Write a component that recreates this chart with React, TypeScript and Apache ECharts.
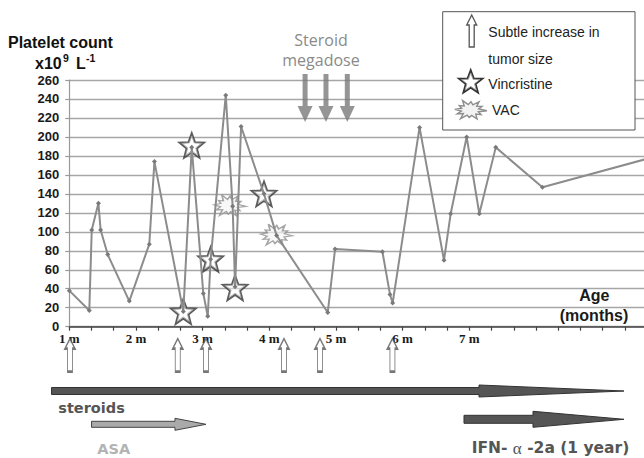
import React, { useEffect, useRef } from 'react';
import * as echarts from 'echarts';

// ---- data (age in days, platelet count x10^9/L) ----
const ageDays = [30, 39, 40.1, 43.1, 44.1, 47.3, 57, 66, 68.3, 81.3, 85.1, 90.3, 92.3, 93.6, 100.4, 103.5, 104.6, 107.3, 117.6, 123.3, 146.3, 149.6, 170.9, 174.3, 175.5, 187.6, 198.6, 201.6, 208.8, 214.5, 221.9, 242.9, 290];
const platelets = [38, 17, 102, 130, 102, 76, 27, 87, 174, 16, 189, 35, 11, 71, 244, 127, 42, 211, 140, 96, 15, 82, 79, 34, 25, 210, 70, 119, 200, 119, 189, 147, 177];

const vincristineDays = [81.3, 85.1, 93.6, 104.6, 117.6];
const vincristineValues = [16, 191, 71, 41, 140];

const vacDays = [102.3, 123.3];
const vacValues = [128, 97];

const tumorIncreaseDays = [30.3, 78.8, 91.5, 126.6, 142.8, 175.4];
const megadoseDays = [136.1, 145.5, 155.1];

const monthLabels = ['1 m', '2 m', '3 m', '4 m', '5 m', '6 m', '7 m'];
const monthDays = [30, 60, 90, 120, 150, 180, 210];

const therapyNames = ['steroids', 'ASA', 'IFN'];
const therapyStart = [22, 40, 207.6];
const therapyEnd = [279.6, 91.5, 279.6];

// ---- shapes ----
function starPoints(cx: number, cy: number, r: number, ri: number): number[][] {
  const pts: number[][] = [];
  for (let i = 0; i < 10; i++) {
    const a = (-90 + i * 36) * Math.PI / 180;
    const rr = i % 2 === 0 ? r : ri;
    pts.push([cx + rr * Math.cos(a), cy + rr * Math.sin(a)]);
  }
  return pts;
}
const burstOuter = [1.0, 0.78, 0.95, 0.72, 1.0, 0.84, 0.9, 0.76, 1.0, 0.8, 0.95, 0.78];
function burstPoints(cx: number, cy: number, w: number, h: number): number[][] {
  const pts: number[][] = [];
  for (let i = 0; i < 24; i++) {
    const a = (i * 15 + 4) * Math.PI / 180;
    const rr = i % 2 === 0 ? burstOuter[i / 2] : 0.52;
    pts.push([cx + rr * (w / 2) * Math.cos(a), cy + rr * (h / 2) * Math.sin(a)]);
  }
  return pts;
}
function upArrowPoints(cx: number, top: number, w: number, h: number): number[][] {
  const hh = w; // head height
  return [
    [cx, top], [cx + w / 2, top + hh], [cx + w / 4, top + hh], [cx + w / 4, top + h],
    [cx - w / 4, top + h], [cx - w / 4, top + hh], [cx - w / 2, top + hh],
  ];
}
const toPath = (pts: number[][]) => 'path://M' + pts.map(p => p[0].toFixed(2) + ' ' + p[1].toFixed(2)).join(' L') + ' Z';

const STAR = toPath(starPoints(50, 50, 50, 21));
const BURST = toPath(burstPoints(50, 50, 100, 100));
const UP_ARROW = toPath(upArrowPoints(5, 0, 10, 33));
const DOWN_ARROW = 'path://M5 0 L10 0 L10 32 L15 32 L7.5 48 L0 32 L5 32 Z';

export default function App() {
  const ref = useRef<HTMLDivElement>(null);
  useEffect(() => {
    const el = ref.current as HTMLDivElement;
    const chart = echarts.init(el, null, { renderer: 'svg' });
    const lineData = ageDays.map((d, i) => [d, platelets[i]]);
    const option: any = {
      animation: false,
      backgroundColor: '#fff',
      grid: { left: 69.3, right: 0, top: 80, bottom: 131.3 },
      xAxis: {
        type: 'value', min: 30, max: 288.6, interval: 10,
        axisLine: { show: true, lineStyle: { color: '#444', width: 1.5 } },
        axisTick: { show: true, length: 4, lineStyle: { color: '#444', width: 1.2 } },
        splitLine: { show: false },
        axisLabel: {
          margin: 5,
          color: '#1a1a1a',
          fontFamily: '"Liberation Serif", "Times New Roman", serif',
          fontWeight: 'bold', fontSize: 13,
          showMaxLabel: false,
          formatter: (v: number) => {
            const idx = monthDays.indexOf(Math.round(v * 1000) / 1000);
            return idx >= 0 ? monthLabels[idx] : '';
          },
        },
      },
      yAxis: {
        type: 'value', min: 0, max: 260, interval: 20,
        axisLine: { show: true, lineStyle: { color: '#999', width: 1.2 } },
        axisTick: { show: true, length: 4, lineStyle: { color: '#999', width: 1.2 } },
        splitLine: { show: true, lineStyle: { color: '#a6a6a6', width: 1.3 } },
        axisLabel: {
          margin: 10, color: '#1a1a1a',
          fontFamily: '"Liberation Sans", Arial, sans-serif', fontWeight: 'bold', fontSize: 13,
        },
      },
      series: [
        {
          type: 'scatter', name: 'VAC', z: 2, silent: true,
          symbol: BURST, symbolSize: [32, 21],
          itemStyle: { color: 'rgba(245,245,245,0.85)', borderColor: '#8e8e8e', borderWidth: 1.4 },
          data: vacDays.map((d, i) => [d, vacValues[i]]),
        },
        {
          type: 'scatter', name: 'Vincristine', z: 2, silent: true,
          symbol: STAR, symbolSize: 25,
          itemStyle: { color: 'rgba(255,255,255,0.55)', borderColor: '#333', borderWidth: 1.8 },
          data: vincristineDays.map((d, i) => [d, vincristineValues[i]]),
        },
        {
          type: 'scatter', name: 'VincristineInner', z: 2, silent: true,
          symbol: STAR, symbolSize: 19,
          itemStyle: { color: 'rgba(255,255,255,0)', borderColor: '#9a9a9a', borderWidth: 0.9 },
          data: vincristineDays.map((d, i) => [d, vincristineValues[i]]),
        },
        {
          type: 'line', name: 'Platelets', z: 3, silent: true,
          data: lineData,
          lineStyle: { color: '#8c8c8c', width: 2 },
          symbol: 'diamond', symbolSize: 5, showSymbol: true,
          itemStyle: { color: '#7a7a7a' },
        },
        {
          type: 'scatter', name: 'Tumor', z: 4, clip: false, silent: true,
          symbol: UP_ARROW, symbolSize: [10, 33],
          itemStyle: { color: '#fff', borderColor: '#555', borderWidth: 1.5 },
          data: tumorIncreaseDays.map(d => [d, -30]),
        },
        {
          type: 'scatter', name: 'Megadose', z: 4, clip: false, silent: true,
          symbol: DOWN_ARROW, symbolSize: [15, 48],
          itemStyle: { color: '#7a7a7a' },
          data: megadoseDays.map(d => [d, 241]),
        },
      ],
    };
    chart.setOption(option);

    const px = (d: number) => (chart.convertToPixel({ gridIndex: 0 }, [d, 0]) as number[])[0];
    const arrowPts = (x0: number, xt: number, headLen: number, y: number, shaft: number, head: number) => {
      const xh = xt - headLen;
      return [
        [x0, y - shaft / 2], [xh, y - shaft / 2], [xh, y - head / 2], [xt, y],
        [xh, y + head / 2], [xh, y + shaft / 2], [x0, y + shaft / 2],
      ];
    };
    const therapyStyle: any = {
      steroids: { y: 391, shaft: 7, head: 12, headLen: 145, fill: '#555', stroke: '#333' },
      ASA: { y: 424.3, shaft: 6, head: 12, headLen: 31, fill: '#aaa', stroke: '#444' },
      IFN: { y: 419.3, shaft: 8, head: 16, headLen: 91, fill: '#555', stroke: '#333' },
    };
    const graphics: any[] = [];
    therapyNames.forEach((n, i) => {
      const s = therapyStyle[n];
      graphics.push({
        type: 'polygon', z: 50, silent: true,
        shape: { points: arrowPts(px(therapyStart[i]), px(therapyEnd[i]), s.headLen, s.y, s.shaft, s.head) },
        style: { fill: s.fill, stroke: s.stroke, lineWidth: 1 },
      });
    });
    const sansB = (sz: number) => `bold ${sz}px "Liberation Sans", Arial, sans-serif`;
    const vera = (sz: number) => `bold ${sz}px "DejaVu Sans", Verdana, sans-serif`;
    const txt = (text: string, x: number, y: number, font: string, fill: string, align = 'left') => ({
      type: 'text', z: 60, silent: true,
      x, y,
      style: { text, font, fill, textAlign: align, textVerticalAlign: 'middle' },
    });
    graphics.push(txt('steroids', 58.3, 408, vera(14.5), '#555'));
    graphics.push(txt('ASA', 97.3, 448.5, vera(14.5), '#b3b3b3'));
    graphics.push({
      type: 'text', z: 60, silent: true, x: 471.7, y: 448,
      style: {
        text: '{a|IFN- }{b|α}{a| -2a (1 year)}',
        textVerticalAlign: 'middle',
        rich: {
          a: { font: vera(15.5), fill: '#555' },
          b: { font: `17px "Liberation Serif", "Times New Roman", serif`, fill: '#555' },
        },
      },
    });
    // axis titles
    graphics.push(txt('Platelet count', 8, 42, sansB(16), '#111'));
    graphics.push(txt('x10', 35, 63, sansB(16), '#111'));
    graphics.push(txt('9', 63, 58, sansB(10.5), '#111'));
    graphics.push(txt('L', 76, 63, sansB(16), '#111'));
    graphics.push(txt('-1', 86, 58, sansB(10.5), '#111'));
    graphics.push(txt('Age', 594.3, 295, sansB(16), '#1a1a1a', 'center'));
    graphics.push(txt('(months)', 594, 315, sansB(16), '#1a1a1a', 'center'));
    // steroid megadose
    const noto = (sz: number) => `${sz}px "Open Sans", "Noto Sans", sans-serif`;
    graphics.push(txt('Steroid', 321, 40, noto(16), '#8a8a8a', 'center'));
    graphics.push(txt('megadose', 321, 60, noto(16), '#8a8a8a', 'center'));
    // legend
    graphics.push({
      type: 'rect', z: 70, silent: true,
      shape: { x: 442.7, y: 11.7, width: 192.3, height: 118.3 },
      style: { fill: '#fff', stroke: '#555', lineWidth: 1 },
    });
    graphics.push({
      type: 'polygon', z: 71, silent: true,
      shape: { points: upArrowPoints(471.7, 15, 10, 32) },
      style: { fill: '#fff', stroke: '#555', lineWidth: 1.3 },
    });
    graphics.push({
      type: 'polygon', z: 71, silent: true,
      shape: { points: starPoints(470.7, 82.5, 12.5, 5.2) },
      style: { fill: '#fff', stroke: '#333', lineWidth: 1.8 },
    });
    graphics.push({
      type: 'polygon', z: 71, silent: true,
      shape: { points: starPoints(470.7, 82.5, 9.5, 4) },
      style: { fill: 'none', stroke: '#9a9a9a', lineWidth: 0.9 },
    });
    graphics.push({
      type: 'polygon', z: 71, silent: true,
      shape: { points: burstPoints(470, 110, 34, 21) },
      style: { fill: '#f3f3f3', stroke: '#8e8e8e', lineWidth: 1.4 },
    });
    const lg = (t: string, x: number, y: number) => ({
      type: 'text', z: 72, silent: true, x, y,
      style: { text: t, font: `14px "Liberation Sans", Arial, sans-serif`, fill: '#222', textVerticalAlign: 'middle' },
    });
    graphics.push(lg('Subtle increase in', 488.3, 32));
    graphics.push(lg('tumor size', 488.3, 58.5));
    graphics.push(lg('Vincristine', 488.3, 84));
    graphics.push(lg('VAC', 492, 110));

    chart.setOption({ graphic: { elements: graphics } });
    return () => chart.dispose();
  }, []);
  return <div ref={ref} style={{ position: 'fixed', left: 0, top: 0, width: 644, height: 458 }} />;
}
